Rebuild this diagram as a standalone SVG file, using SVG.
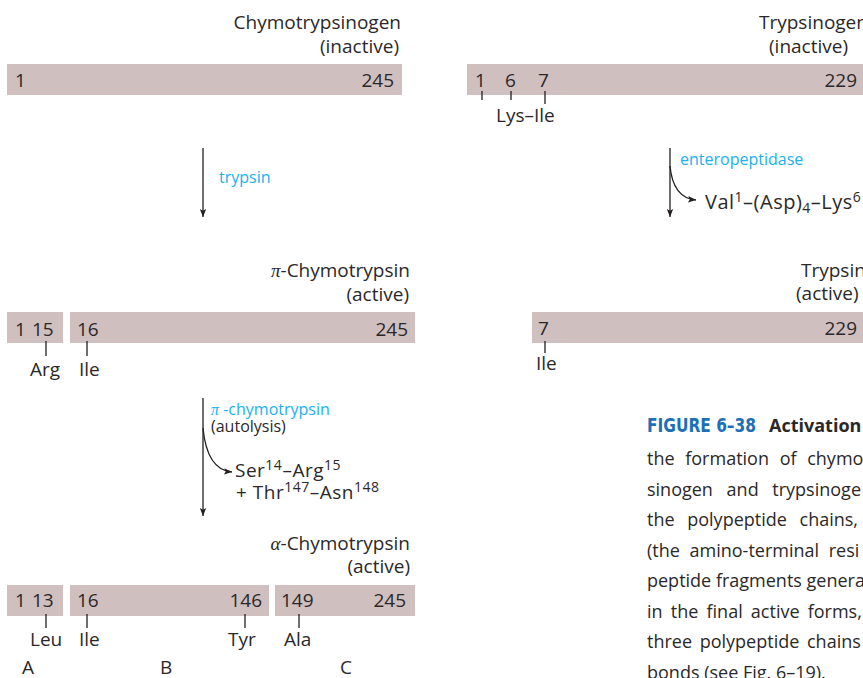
<svg xmlns="http://www.w3.org/2000/svg" width="863" height="678" viewBox="0 0 863 678">
<defs>
<marker id="ah" markerUnits="userSpaceOnUse" markerWidth="10" markerHeight="10" refX="8" refY="4" orient="auto">
<path d="M0,0.8 L8,4 L0,7.2 L1.8,4 Z" fill="#231f20"/>
</marker>
<style>
text{font-family:"Open Sans","Liberation Sans",sans-serif;fill:#2b2829;}
.t{font-size:19px;}
.n{font-size:19px;}
.enz{font-size:16px;fill:#22b1ec;}
.gk{font-family:"Liberation Serif",serif;font-style:italic;}
.bar{fill:#d0bfbf;}
.ln{stroke:#231f20;stroke-width:1.3;fill:none;}
.cap{font-size:18px;}
.sup{font-size:14px;}
.frag{font-size:19px;letter-spacing:0.5px;}
</style>
</defs>
<rect width="863" height="678" fill="#ffffff"/>

<g id="chymotrypsinogen">
<text class="t" x="401" y="29" text-anchor="end">Chymotrypsinogen</text>
<text class="t" x="399" y="53" text-anchor="end">(inactive)</text>
<rect class="bar" x="7" y="64" width="395" height="31"/>
<text class="n" x="15" y="87">1</text>
<text class="n" x="394" y="87" text-anchor="end">245</text>
</g>

<g id="pi-chymotrypsin">
<text class="t" x="410" y="277" text-anchor="end"><tspan class="gk">π</tspan>-Chymotrypsin</text>
<text class="t" x="409" y="301" text-anchor="end">(active)</text>
<rect class="bar" x="7" y="312" width="56" height="31"/>
<rect class="bar" x="70" y="312" width="345" height="31"/>
<text class="n" x="15" y="336">1</text>
<text class="n" x="32" y="336">15</text>
<text class="n" x="77" y="336">16</text>
<text class="n" x="408" y="336" text-anchor="end">245</text>
<line class="ln" x1="46" y1="341" x2="46" y2="356"/>
<line class="ln" x1="87" y1="341" x2="87" y2="356"/>
<text class="t" x="30" y="376">Arg</text>
<text class="t" x="79" y="376">Ile</text>
</g>

<g id="alpha-chymotrypsin">
<text class="t" x="410" y="550" text-anchor="end"><tspan class="gk">α</tspan>-Chymotrypsin</text>
<text class="t" x="410" y="573" text-anchor="end">(active)</text>
<rect class="bar" x="7" y="585" width="56" height="31"/>
<rect class="bar" x="70" y="585" width="199" height="31"/>
<rect class="bar" x="275" y="585" width="140" height="31"/>
<text class="n" x="15" y="607">1</text>
<text class="n" x="32" y="607">13</text>
<text class="n" x="77" y="607">16</text>
<text class="n" x="262" y="607" text-anchor="end">146</text>
<text class="n" x="281" y="607">149</text>
<text class="n" x="406" y="607" text-anchor="end">245</text>
<line class="ln" x1="46" y1="614" x2="46" y2="628"/>
<line class="ln" x1="87" y1="614" x2="87" y2="628"/>
<line class="ln" x1="245" y1="614" x2="245" y2="628"/>
<line class="ln" x1="299" y1="614" x2="299" y2="628"/>
<text class="t" x="30" y="646">Leu</text>
<text class="t" x="79" y="646">Ile</text>
<text class="t" x="228" y="646">Tyr</text>
<text class="t" x="284" y="646">Ala</text>
<text class="t" x="22" y="674">A</text>
<text class="t" x="160" y="674">B</text>
<text class="t" x="340" y="674">C</text>
</g>

<g id="trypsinogen">
<text class="t" x="759" y="29">Trypsinogen</text>
<text class="t" x="769" y="53">(inactive)</text>
<rect class="bar" x="467" y="64" width="396" height="31"/>
<text class="n" x="475" y="87">1</text>
<text class="n" x="505" y="87">6</text>
<text class="n" x="538" y="87">7</text>
<text class="n" x="857" y="87" text-anchor="end">229</text>
<line class="ln" x1="482" y1="91" x2="482" y2="100"/>
<line class="ln" x1="511" y1="91" x2="511" y2="100"/>
<line class="ln" x1="545" y1="91" x2="545" y2="104"/>
<text class="t" x="496" y="122">Lys–Ile</text>
</g>

<g id="trypsin">
<text class="t" x="801" y="277">Trypsin</text>
<text class="t" x="796" y="300">(active)</text>
<rect class="bar" x="532" y="312" width="331" height="31"/>
<text class="n" x="538" y="335">7</text>
<text class="n" x="857" y="335" text-anchor="end">229</text>
<line class="ln" x1="545" y1="341" x2="545" y2="353"/>
<text class="t" x="536" y="370">Ile</text>
</g>

<g id="connectors">
<line class="ln" x1="203" y1="148" x2="203" y2="217" marker-end="url(#ah)"/>
<text class="enz" x="219" y="183">trypsin</text>

<line class="ln" x1="203" y1="398" x2="203" y2="516" marker-end="url(#ah)"/>
<path class="ln" d="M203,428 Q207,470 232,472" marker-end="url(#ah)"/>
<text class="enz" x="211" y="415"><tspan class="gk">π</tspan> -chymotrypsin</text>
<text style="font-size:16px" x="211" y="432">(autolysis)</text>
<text class="frag" x="235" y="477">Ser<tspan class="sup" dy="-7">14</tspan><tspan dy="7">–Arg</tspan><tspan class="sup" dy="-7">15</tspan></text>
<text class="frag" x="236" y="499">+ Thr<tspan class="sup" dy="-7">147</tspan><tspan dy="7">–Asn</tspan><tspan class="sup" dy="-7">148</tspan></text>

<line class="ln" x1="670" y1="148" x2="670" y2="217" marker-end="url(#ah)"/>
<path class="ln" d="M670,166 Q673,198 696,200" marker-end="url(#ah)"/>
<text class="enz" x="680" y="165">enteropeptidase</text>
<text style="font-size:20px;letter-spacing:0.5px" x="705" y="209">Val<tspan class="sup" dy="-7">1</tspan><tspan dy="7">–(Asp)</tspan><tspan class="sup" dy="4">4</tspan><tspan dy="-4">–Lys</tspan><tspan class="sup" dy="-7">6</tspan></text>
</g>

<g id="caption">
<text x="647" y="432" style="font-family:'DejaVu Sans','Liberation Sans',sans-serif;font-weight:bold;font-stretch:condensed;font-size:20px;fill:#1d6fb8" textLength="109" lengthAdjust="spacingAndGlyphs">FIGURE 6–38</text>
<text x="769" y="432" style="font-weight:bold;font-size:18px;fill:#2b2829">Activation</text>
<text class="cap" x="647" y="465" word-spacing="6">the formation of chymo</text>
<text class="cap" x="647" y="496" word-spacing="9">sinogen and trypsinoge</text>
<text class="cap" x="647" y="526" word-spacing="8">the polypeptide chains,</text>
<text class="cap" x="647" y="557" word-spacing="5">(the amino-terminal resi</text>
<text class="cap" x="647" y="587">peptide fragments genera</text>
<text class="cap" x="647" y="618" word-spacing="3.5">in the final active forms,</text>
<text class="cap" x="647" y="648" word-spacing="3">three polypeptide chains</text>
<text class="cap" x="647" y="679">bonds (see Fig. 6–19).</text>
</g>
</svg>
